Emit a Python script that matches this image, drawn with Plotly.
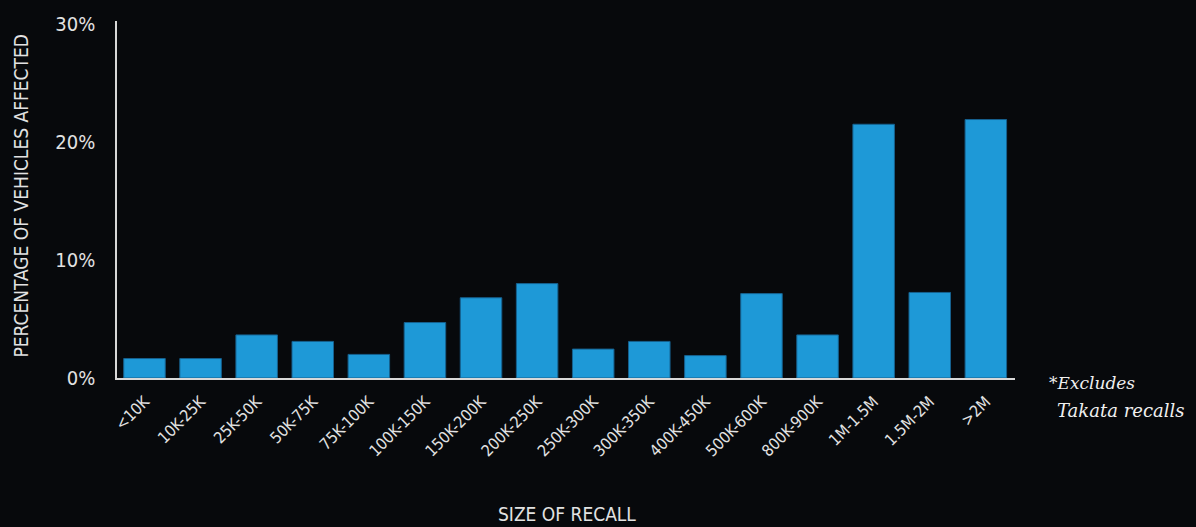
import plotly.graph_objects as go

categories = ["<10K", "10K-25K", "25K-50K", "50K-75K", "75K-100K", "100K-150K",
              "150K-200K", "200K-250K", "250K-300K", "300K-350K", "400K-450K",
              "500K-600K", "800K-900K", "1M-1.5M", "1.5M-2M", ">2M"]
pct_vehicles = [1.65, 1.65, 3.65, 3.1, 2.0, 4.7, 6.8, 8.0, 2.45, 3.1, 1.9,
                7.15, 3.65, 21.5, 7.25, 21.9]
y_ticks = [0, 10, 20, 30]
y_tick_labels = ["0%", "10%", "20%", "30%"]

W, H = 1196, 527
L, R, T, B = 117, 181, 18, 149
pw, ph = W - L - R, H - T - B

cond = "DejaVu Sans Condensed, DejaVu Sans, sans-serif"
serif = "DejaVu Serif, Liberation Serif, serif"
txt = "#e2e2e2"
bg = "#07090c"

fig = go.Figure(go.Bar(
    x=categories, y=pct_vehicles,
    marker=dict(color="#1e99d7", line=dict(color="#16618f", width=1)),
    width=0.74,
))

fig.update_layout(
    width=W, height=H,
    margin=dict(l=L, r=R, t=T, b=B),
    paper_bgcolor=bg, plot_bgcolor=bg,
    showlegend=False,
    font=dict(family=cond, color=txt),
)
fig.update_xaxes(
    range=[-0.49, 15.52],
    showline=True, linecolor="#d8d8d8", linewidth=2,
    showgrid=False, zeroline=False,
    tickangle=-45, tickfont=dict(size=16, family=cond, color=txt),
    ticks="outside", ticklen=6, tickcolor="rgba(0,0,0,0)",
)
fig.update_yaxes(
    range=[0, 30.25],
    tickvals=y_ticks, ticktext=y_tick_labels,
    showline=True, linecolor="#d8d8d8", linewidth=1.5,
    showgrid=False, zeroline=False,
    tickfont=dict(size=20, family=cond, color=txt),
    ticks="outside", ticklen=16, tickcolor="rgba(0,0,0,0)",
)

fig.add_annotation(
    text="PERCENTAGE OF VEHICLES AFFECTED", textangle=-90,
    xref="paper", yref="paper", x=(21 - L) / pw, y=(H - B - 195) / ph,
    xanchor="center", yanchor="middle", showarrow=False,
    font=dict(size=19, family=cond, color=txt),
)
fig.add_annotation(
    text="SIZE OF RECALL",
    xref="paper", yref="paper", x=(567 - L) / pw, y=(H - B - 515) / ph,
    xanchor="center", yanchor="middle", showarrow=False,
    font=dict(size=19, family=cond, color=txt),
)
fig.add_annotation(
    text="<i>*Excludes</i>",
    xref="paper", yref="paper", x=(1047 - L) / pw, y=(H - B - 383) / ph,
    xanchor="left", yanchor="middle", align="left", showarrow=False,
    font=dict(size=17, family=serif, color="#f0f0f0"),
)
fig.add_annotation(
    text="<i>Takata recalls</i>",
    xref="paper", yref="paper", x=(1055 - L) / pw, y=(H - B - 411) / ph,
    xanchor="left", yanchor="middle", align="left", showarrow=False,
    font=dict(size=18, family=serif, color="#f0f0f0"),
)

fig.write_html(
    "out.html",
    config={"displayModeBar": False},
    post_script="document.body.style.margin='0';document.body.style.background='" + bg + "';",
)
